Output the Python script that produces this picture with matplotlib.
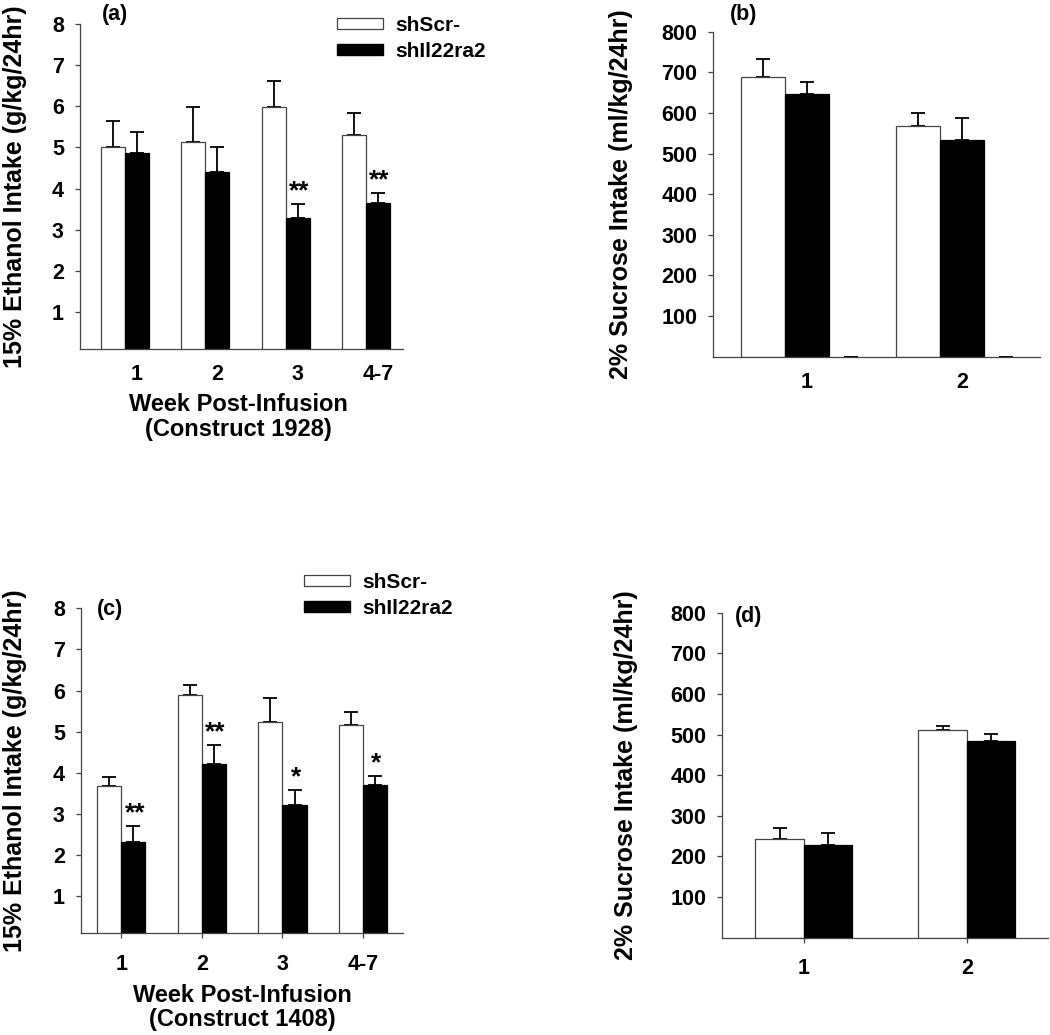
import numpy as np
import matplotlib
matplotlib.use("Agg")
import matplotlib.pyplot as plt
from matplotlib.patches import Patch

# ---- data ----
weeks = ["1", "2", "3", "4-7"]
a_scr = [5.00, 5.12, 5.99, 5.31]
a_scr_err = [0.65, 0.86, 0.62, 0.52]
a_il = [4.86, 4.41, 3.28, 3.65]
a_il_err = [0.51, 0.61, 0.35, 0.24]
a_sig = ["", "", "**", "**"]

b_cats = ["1", "2"]
b_scr = [689, 569]
b_scr_err = [44, 32]
b_il = [646, 533]
b_il_err = [31, 54]
b_extra = [0, 0]   # empty third series, only its cap shows

c_scr = [3.69, 5.90, 5.23, 5.17]
c_scr_err = [0.21, 0.23, 0.60, 0.31]
c_il = [2.33, 4.21, 3.21, 3.71]
c_il_err = [0.37, 0.47, 0.38, 0.22]
c_sig = ["**", "**", "*", "*"]

d_cats = ["1", "2"]
d_scr = [243, 512]
d_scr_err = [26, 9]
d_il = [228, 484]
d_il_err = [29, 18]

legend_labels = ["shScr-", "shIl22ra2"]

plt.rcParams["font.family"] = ["Liberation Sans", "DejaVu Sans"]
plt.rcParams["font.weight"] = "bold"
plt.rcParams["axes.labelweight"] = "bold"

fig = plt.figure(figsize=(10.5, 10.35), dpi=100)
W, H = 1050.0, 1035.0


def px_axes(left, top, right, bottom):
    return fig.add_axes([left / W, 1 - bottom / H, (right - left) / W, (bottom - top) / H])


def bars(ax, scr, scr_err, il, il_err, w):
    x = np.arange(len(scr))
    ax.bar(x - w / 2, scr, w, color="white", edgecolor="#444444", linewidth=0.9, zorder=2)
    ax.bar(x + w / 2, il, w, color="black", edgecolor="black", linewidth=0.9, zorder=2)
    ax.errorbar(x - w / 2, scr, yerr=[np.zeros(len(scr)), scr_err], fmt="none",
                ecolor="black", elinewidth=1.3, capsize=5, capthick=1.3, zorder=1)
    ax.errorbar(x + w / 2, il, yerr=[np.zeros(len(il)), il_err], fmt="none",
                ecolor="black", elinewidth=1.3, capsize=5, capthick=1.3, zorder=1)
    return x


def style(ax, xticks, xlabels, yticks, tickmarks):
    for s in ["top", "right"]:
        ax.spines[s].set_visible(False)
    for s in ["left", "bottom"]:
        ax.spines[s].set_color("#444444")
        ax.spines[s].set_linewidth(0.9)
    ax.set_yticks(yticks)
    ax.set_xticks(xticks)
    ax.set_xticklabels(xlabels)
    ax.tick_params(axis="y", length=3.6, width=0.9, color="#444444", pad=8, labelsize=15.5)
    ax.tick_params(axis="x", length=3.6 if tickmarks else 0, width=0.9, color="#444444",
                   pad=11, labelsize=15.5)


def stars(ax, x, vals, errs, sig):
    for xi, v, e, s in zip(x, vals, errs, sig):
        if s:
            ax.annotate(s, (xi, v + e), xytext=(1, 4), textcoords="offset points",
                        ha="center", va="baseline", fontsize=19, fontweight="bold")


def legend(ax, fx, fy):
    handles = [Patch(facecolor="white", edgecolor="#444444", linewidth=0.9),
               Patch(facecolor="black", edgecolor="black")]
    ax.legend(handles, legend_labels, loc="center left", bbox_to_anchor=(fx / W, 1 - fy / H),
              bbox_transform=fig.transFigure, frameon=False, borderpad=0, borderaxespad=0,
              handlelength=2.2, handleheight=0.45, handletextpad=0.6, labelspacing=0.35,
              fontsize=15)


# (a)
ax = px_axes(80, 24, 403, 349)
w = 0.30
x = bars(ax, a_scr, a_scr_err, a_il, a_il_err, w)
ax.set_xlim(-0.56, 3.46)
ax.set_ylim(0.1, 8)
style(ax, x + w / 2, weeks, range(1, 9), False)
stars(ax, x + w / 2, a_il, a_il_err, a_sig)
ax.set_ylabel("15% Ethanol Intake (g/kg/24hr)", fontsize=18)
ax.yaxis.set_label_coords(-0.164, 0.5)
ax.set_xlabel("Week Post-Infusion\n(Construct 1928)", fontsize=17, linespacing=1.1)
ax.xaxis.set_label_coords(0.49, -0.135)
ax.text(0.067, 1.03, "(a)", transform=ax.transAxes, fontsize=15.5, va="center")
legend(ax, 336.7, 38.3)

# (b)
ax = px_axes(713.3, 31.7, 1040, 356.7)
w = 0.283
x = bars(ax, b_scr, b_scr_err, b_il, b_il_err, w)
ax.errorbar(x + 1.5 * w, b_extra, yerr=[b_extra, b_extra], fmt="none",
            ecolor="black", elinewidth=1.3, capsize=5, capthick=1.3, clip_on=False)
ax.set_xlim(-0.46, 1.64)
ax.set_ylim(0, 800)
style(ax, x + w / 2, b_cats, range(100, 900, 100), False)
ax.set_ylabel("2% Sucrose Intake (ml/kg/24hr)", fontsize=18)
ax.yaxis.set_label_coords(-0.246, 0.5)
ax.text(0.05, 1.053, "(b)", transform=ax.transAxes, fontsize=15.5, va="center")

# (c)
ax = px_axes(81, 608.3, 403.3, 933.3)
w = 0.30
x = bars(ax, c_scr, c_scr_err, c_il, c_il_err, w)
ax.set_xlim(-0.5, 3.5)
ax.set_ylim(0.1, 8)
style(ax, x, weeks, range(1, 9), True)
stars(ax, x + w / 2, c_il, c_il_err, c_sig)
ax.set_ylabel("15% Ethanol Intake (g/kg/24hr)", fontsize=18)
ax.yaxis.set_label_coords(-0.168, 0.5)
ax.set_xlabel("Week Post-Infusion\n(Construct 1408)", fontsize=17, linespacing=1.1)
ax.xaxis.set_label_coords(0.5, -0.155)
ax.text(0.05, 0.995, "(c)", transform=ax.transAxes, fontsize=15.5, va="center")
legend(ax, 304, 595.5)

# (d)
ax = px_axes(722.3, 612.7, 1048.3, 937.7)
w = 0.297
x = bars(ax, d_scr, d_scr_err, d_il, d_il_err, w)
ax.set_xlim(-0.5, 1.5)
ax.set_ylim(0, 800)
style(ax, x, d_cats, range(100, 900, 100), True)
ax.set_ylabel("2% Sucrose Intake (ml/kg/24hr)", fontsize=18)
ax.yaxis.set_label_coords(-0.259, 0.5)
ax.text(0.04, 0.988, "(d)", transform=ax.transAxes, fontsize=15.5, va="center")

fig.savefig("out.png", dpi=100, facecolor="white")
